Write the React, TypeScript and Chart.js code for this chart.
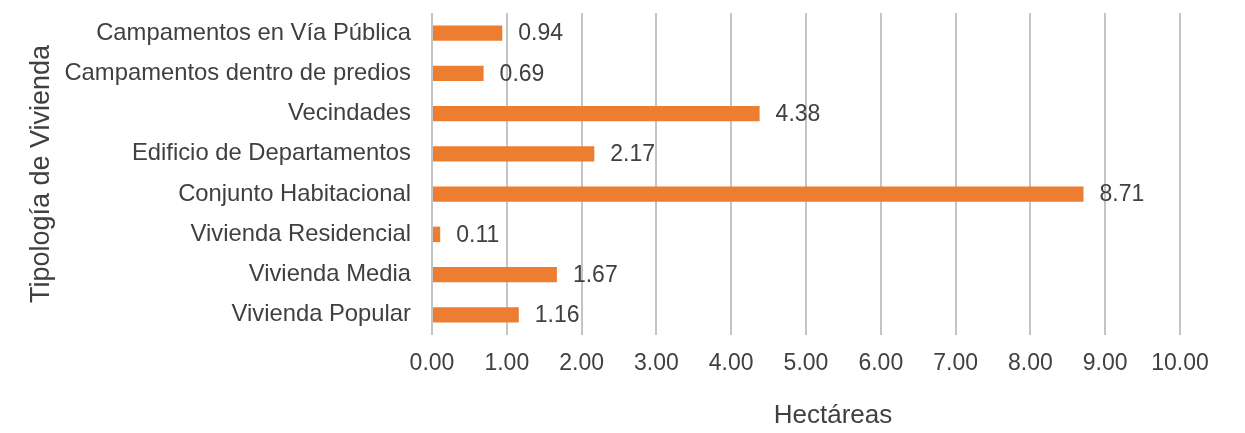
import React, { useEffect, useRef } from "react";
import { Chart, registerables } from "chart.js";

Chart.register(...registerables);

// Housing typologies, top to bottom as drawn
const categories: string[] = [
  "Campamentos en Vía Pública",
  "Campamentos dentro de predios",
  "Vecindades",
  "Edificio de Departamentos",
  "Conjunto Habitacional",
  "Vivienda Residencial",
  "Vivienda Media",
  "Vivienda Popular",
];

// Surface per typology, in hectares
const hectares: number[] = [0.94, 0.69, 4.38, 2.17, 8.71, 0.11, 1.67, 1.16];

const xMin = 0;
const xMax = 10;
const xStep = 1;

const xTitle = "Hectáreas";
const yTitle = "Tipología de Vivienda";

const BAR_COLOR = "#ED7D31";
const TEXT_COLOR = "#404040";
const GRID_COLOR = "#c4c4c4";
const FONT_FAMILY = "'Liberation Sans', Arial, sans-serif";

// Writes each bar's value just past its end
const valueLabels = {
  id: "valueLabels",
  afterDatasetsDraw(chart: Chart) {
    const { ctx } = chart;
    const meta = chart.getDatasetMeta(0);
    const data = chart.data.datasets[0].data as number[];
    ctx.save();
    ctx.font = `23px ${FONT_FAMILY}`;
    ctx.fillStyle = TEXT_COLOR;
    ctx.textAlign = "left";
    ctx.textBaseline = "middle";
    meta.data.forEach((bar: any, i: number) => {
      ctx.fillText(data[i].toFixed(2), bar.x + 16, bar.y + 1);
    });
    ctx.restore();
  },
};

// Horizontal axis title, set a little right of the plot centre
const xAxisTitle = {
  id: "xAxisTitle",
  afterDraw(chart: Chart) {
    const { ctx, chartArea } = chart;
    ctx.save();
    ctx.font = `26px ${FONT_FAMILY}`;
    ctx.fillStyle = TEXT_COLOR;
    ctx.textAlign = "center";
    ctx.textBaseline = "middle";
    ctx.fillText(xTitle, (chartArea.left + chartArea.right) / 2 + 27, chart.height - 17);
    ctx.restore();
  },
};

export default function App() {
  const canvasRef = useRef<HTMLCanvasElement | null>(null);

  useEffect(() => {
    document.body.style.margin = "0";
    const canvas = canvasRef.current;
    if (!canvas) return;
    const chart = new Chart(canvas, {
      type: "bar",
      data: {
        labels: categories,
        datasets: [
          {
            data: hectares,
            backgroundColor: BAR_COLOR,
            borderWidth: 0,
            categoryPercentage: 0.385,
            barPercentage: 1,
          },
        ],
      },
      options: {
        indexAxis: "y",
        animation: false,
        responsive: false,
        maintainAspectRatio: false,
        layout: { padding: { top: 13, right: 65, bottom: 0, left: 0 } },
        plugins: {
          legend: { display: false },
          tooltip: { enabled: false },
        },
        scales: {
          x: {
            min: xMin,
            max: xMax,
            border: { display: false },
            grid: {
              color: GRID_COLOR,
              lineWidth: 2,
              drawTicks: false,
            },
            ticks: {
              stepSize: xStep,
              padding: 15,
              color: TEXT_COLOR,
              font: { family: FONT_FAMILY, size: 23 },
              callback: (v: any) => Number(v).toFixed(2),
              maxRotation: 0,
            },
            afterFit: (scale: any) => {
              scale.height = 98;
            },
          },
          y: {
            border: { display: false },
            grid: { display: false, drawTicks: false },
            ticks: {
              padding: 21,
              color: TEXT_COLOR,
              font: { family: FONT_FAMILY, size: 23.8 },
            },
            title: {
              display: true,
              text: yTitle,
              color: TEXT_COLOR,
              font: { family: FONT_FAMILY, size: 27 },
              padding: { top: 25, bottom: 0 },
            },
            afterFit: (scale: any) => {
              scale.width = 432;
              // the category labels fit inside the rows; no extra room above/below
              scale.paddingTop = 0;
              scale.paddingBottom = 0;
            },
          },
        },
      },
      plugins: [valueLabels, xAxisTitle],
    });
    return () => chart.destroy();
  }, []);

  return (
    <div style={{ width: 1245, height: 433, background: "#ffffff" }}>
      <canvas ref={canvasRef} width={1245} height={433} />
    </div>
  );
}
